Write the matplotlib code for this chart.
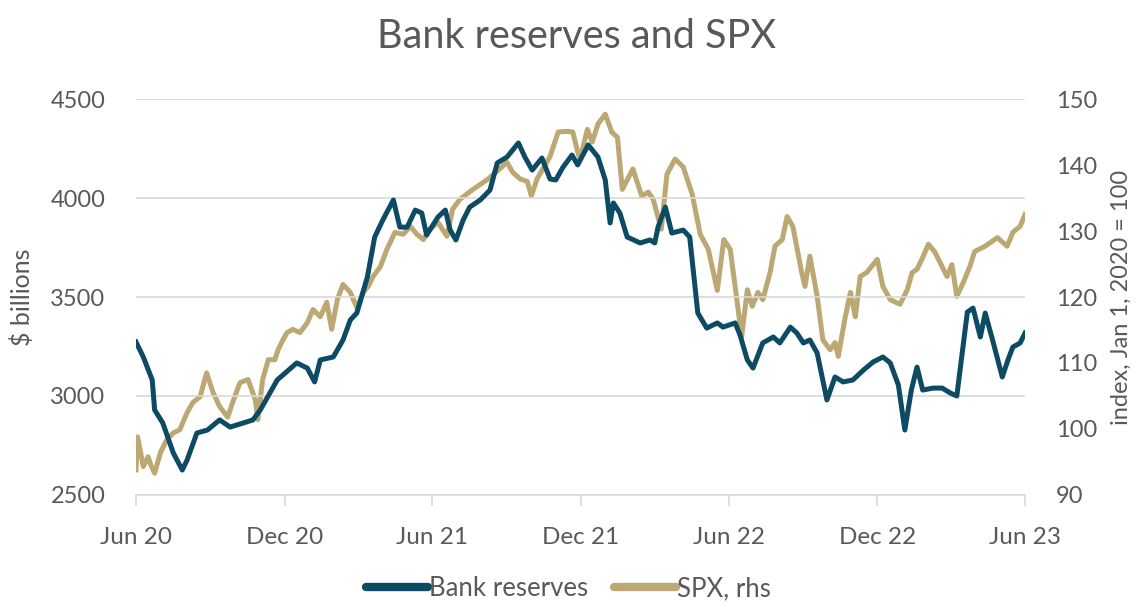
import matplotlib
matplotlib.use("Agg")
import matplotlib.pyplot as plt
import pandas as pd

# Bank reserves, $ billions
res_dates = [
    "2020-06-01", "2020-06-10", "2020-06-21", "2020-06-24", "2020-07-04", "2020-07-17",
    "2020-07-28", "2020-08-03", "2020-08-15", "2020-08-28", "2020-09-12", "2020-09-25",
    "2020-10-23", "2020-11-01", "2020-11-22", "2020-12-16", "2020-12-29", "2021-01-07",
    "2021-01-14", "2021-01-30", "2021-02-11", "2021-02-20", "2021-02-28", "2021-03-13",
    "2021-03-22", "2021-04-01", "2021-04-14", "2021-04-22", "2021-05-01", "2021-05-11",
    "2021-05-19", "2021-05-25", "2021-06-08", "2021-06-17", "2021-06-23", "2021-06-30",
    "2021-07-09", "2021-07-17", "2021-07-30", "2021-08-11", "2021-08-20", "2021-09-01",
    "2021-09-15", "2021-09-23", "2021-10-02", "2021-10-14", "2021-10-24", "2021-10-31",
    "2021-11-09", "2021-11-20", "2021-11-27", "2021-12-10", "2021-12-22", "2021-12-31",
    "2022-01-06", "2022-01-10", "2022-01-18", "2022-01-27", "2022-02-12", "2022-02-24",
    "2022-03-02", "2022-03-06", "2022-03-15", "2022-03-23", "2022-04-06", "2022-04-14",
    "2022-04-24", "2022-05-05", "2022-05-18", "2022-05-25", "2022-06-09", "2022-06-15",
    "2022-06-24", "2022-07-01", "2022-07-13", "2022-07-26", "2022-08-03", "2022-08-16",
    "2022-08-24", "2022-09-01", "2022-09-09", "2022-09-18", "2022-09-30", "2022-10-10",
    "2022-10-20", "2022-11-01", "2022-11-14", "2022-11-26", "2022-12-08", "2022-12-17",
    "2022-12-27", "2023-01-04", "2023-01-12", "2023-01-19", "2023-01-26", "2023-02-08",
    "2023-02-19", "2023-03-01", "2023-03-09", "2023-03-22", "2023-03-29", "2023-04-07",
    "2023-04-13", "2023-04-23", "2023-05-04", "2023-05-11", "2023-05-17", "2023-05-26",
    "2023-06-01",
]
reserves = [
    3273, 3197, 3081, 2929, 2864, 2712,
    2626, 2677, 2813, 2828, 2879, 2843,
    2879, 2929, 3081, 3167, 3141, 3071,
    3182, 3197, 3283, 3384, 3419, 3601,
    3803, 3889, 3990, 3853, 3853, 3939,
    3924, 3813, 3904, 3939, 3838, 3788,
    3889, 3954, 3990, 4040, 4177, 4207,
    4278, 4207, 4141, 4202, 4096, 4091,
    4156, 4217, 4167, 4268, 4207, 4091,
    3874, 3975, 3924, 3803, 3773, 3788,
    3773, 3853, 3954, 3823, 3838, 3803,
    3419, 3343, 3369, 3348, 3369, 3308,
    3182, 3141, 3268, 3298, 3268, 3348,
    3318, 3268, 3283, 3217, 2980, 3096,
    3071, 3081, 3131, 3172, 3197, 3167,
    3056, 2828, 3030, 3146, 3030, 3040,
    3040, 3015, 3000, 3424, 3444, 3298,
    3419, 3268, 3096, 3182, 3247, 3268,
    3318,
]

# SPX, index Jan 1 2020 = 100
spx_dates = [
    "2020-06-01", "2020-06-03", "2020-06-10", "2020-06-16", "2020-06-19", "2020-06-24",
    "2020-07-01", "2020-07-09", "2020-07-17", "2020-07-25", "2020-08-03", "2020-08-10",
    "2020-08-19", "2020-08-27", "2020-09-04", "2020-09-12", "2020-09-22", "2020-09-28",
    "2020-10-07", "2020-10-17", "2020-10-26", "2020-10-29", "2020-11-04", "2020-11-11",
    "2020-11-19", "2020-11-23", "2020-11-29", "2020-12-04", "2020-12-11", "2020-12-20",
    "2020-12-29", "2021-01-05", "2021-01-14", "2021-01-22", "2021-01-28", "2021-02-04",
    "2021-02-11", "2021-02-20", "2021-02-28", "2021-03-08", "2021-03-14", "2021-03-20",
    "2021-03-29", "2021-04-06", "2021-04-16", "2021-04-26", "2021-05-05", "2021-05-13",
    "2021-05-21", "2021-05-29", "2021-06-08", "2021-06-19", "2021-06-26", "2021-07-05",
    "2021-07-21", "2021-08-09", "2021-08-20", "2021-09-01", "2021-09-08", "2021-09-17",
    "2021-09-26", "2021-10-01", "2021-10-08", "2021-10-15", "2021-10-24", "2021-11-03",
    "2021-11-14", "2021-11-21", "2021-11-27", "2021-11-30", "2021-12-09", "2021-12-15",
    "2021-12-22", "2021-12-31", "2022-01-08", "2022-01-15", "2022-01-21", "2022-02-03",
    "2022-02-14", "2022-02-22", "2022-02-28", "2022-03-10", "2022-03-17", "2022-03-27",
    "2022-04-06", "2022-04-17", "2022-04-27", "2022-05-07", "2022-05-18", "2022-05-26",
    "2022-06-03", "2022-06-11", "2022-06-17", "2022-06-24", "2022-06-30", "2022-07-07",
    "2022-07-13", "2022-07-22", "2022-07-28", "2022-08-06", "2022-08-12", "2022-08-19",
    "2022-08-30", "2022-09-03", "2022-09-09", "2022-09-18", "2022-09-25", "2022-10-04",
    "2022-10-10", "2022-10-14", "2022-10-22", "2022-10-29", "2022-11-04", "2022-11-10",
    "2022-11-18", "2022-12-01", "2022-12-08", "2022-12-17", "2022-12-29", "2023-01-07",
    "2023-01-13", "2023-01-19", "2023-01-25", "2023-02-02", "2023-02-10", "2023-02-19",
    "2023-02-25", "2023-03-03", "2023-03-09", "2023-03-17", "2023-03-25", "2023-03-31",
    "2023-04-13", "2023-04-28", "2023-05-10", "2023-05-17", "2023-05-26", "2023-06-01",
]
spx = [
    93.8, 98.8, 94.3, 95.8, 94.6, 93.3,
    96.4, 98.4, 99.4, 99.9, 102.5, 104.0,
    104.9, 108.5, 105.5, 103.4, 101.8, 104.0,
    107.0, 107.5, 104.4, 101.4, 107.5, 110.5,
    110.5, 112.0, 113.5, 114.6, 115.1, 114.6,
    116.1, 118.1, 117.0, 119.2, 115.1, 119.6,
    121.9, 120.7, 118.4, 120.7, 121.6, 123.1,
    124.6, 127.2, 129.8, 129.5, 130.7, 129.5,
    128.7, 130.3, 131.3, 129.2, 133.3, 134.8,
    136.3, 137.9, 139.1, 140.4, 138.9, 137.9,
    137.5, 135.3, 137.9, 139.4, 141.3, 145.0,
    145.1, 145.0, 142.0, 140.9, 145.4, 143.5,
    146.2, 147.7, 145.0, 144.2, 136.3, 139.4,
    135.3, 135.9, 134.8, 130.3, 138.6, 140.9,
    139.7, 135.6, 129.5, 127.2, 121.0, 128.7,
    127.2, 119.6, 114.0, 121.1, 118.6, 120.7,
    119.6, 123.7, 127.7, 128.7, 132.2, 130.7,
    123.7, 121.6, 126.2, 120.1, 113.5, 112.0,
    113.1, 111.0, 116.6, 120.7, 117.0, 123.1,
    123.7, 125.7, 121.6, 119.6, 118.9, 121.1,
    123.7, 124.2, 125.7, 128.0, 126.8, 124.6,
    123.1, 124.9, 120.1, 122.2, 124.6, 126.9,
    127.7, 129.0, 127.7, 129.8, 130.7, 132.5,
]

tick_dates = ["2020-06-01", "2020-12-01", "2021-06-01", "2021-12-01",
              "2022-06-01", "2022-12-01", "2023-06-01"]
tick_labels = ["Jun 20", "Dec 20", "Jun 21", "Dec 21", "Jun 22", "Dec 22", "Jun 23"]

plt.rcParams["font.family"] = ["Lato", "DejaVu Sans"]
text_color = "#595959"
grid_color = "#d9d9d9"
teal = "#0d4a63"
gold = "#bba873"

fig = plt.figure(figsize=(11.37, 6.06), dpi=100)
ax = fig.add_axes([0.1196, 0.1832, 0.7819, 0.6534])
ax2 = ax.twinx()

l1, = ax.plot(pd.to_datetime(res_dates), reserves, color=teal, lw=3.6,
              solid_joinstyle="round", zorder=3, label="Bank reserves")
l2, = ax2.plot(pd.to_datetime(spx_dates), spx, color=gold, lw=3.6,
               solid_joinstyle="round", zorder=2, label="SPX, rhs")
# teal line drawn above gold
ax.set_zorder(ax2.get_zorder() + 1)
ax.patch.set_visible(False)

ax.set_xlim(pd.Timestamp("2020-06-01"), pd.Timestamp("2023-06-01"))
ax.set_ylim(2500, 4500)
ax2.set_ylim(90, 150)
ax.set_yticks([2500, 3000, 3500, 4000, 4500])
ax2.set_yticks([90, 100, 110, 120, 130, 140, 150])
ax.set_xticks(pd.to_datetime(tick_dates))
ax.set_xticklabels(tick_labels)

for a in (ax, ax2):
    for s in a.spines.values():
        s.set_visible(False)
ax.spines["bottom"].set_visible(True)
ax.spines["bottom"].set_color(grid_color)
ax.spines["bottom"].set_linewidth(1.2)

ax.yaxis.grid(True, color=grid_color, lw=1.2)
ax.set_axisbelow(True)

ax.tick_params(axis="x", length=8, width=1.2, color=grid_color, labelsize=17.5,
               labelcolor=text_color, pad=15)
ax.tick_params(axis="y", length=0, labelsize=17, labelcolor=text_color, pad=22)
ax2.tick_params(axis="y", length=0, labelsize=17, labelcolor=text_color, pad=22)

ax.set_ylabel("$ billions", fontsize=18, color=text_color, labelpad=12)
ax2.set_ylabel("index, Jan 1, 2020 = 100", fontsize=17, color=text_color, labelpad=10)

fig.suptitle("Bank reserves and SPX", x=0.507, y=0.97, fontsize=28.5, color=text_color)

leg = fig.legend(handles=[l1, l2], loc="lower center", bbox_to_anchor=(0.5, -0.03), ncol=2,
                 frameon=False, fontsize=18.5, labelcolor=text_color, handlelength=2.4,
                 handletextpad=0.05, columnspacing=1.0)
for h in leg.legend_handles:
    h.set_linewidth(6)
    h.set_solid_capstyle("round")

fig.savefig("out.png", dpi=100)
